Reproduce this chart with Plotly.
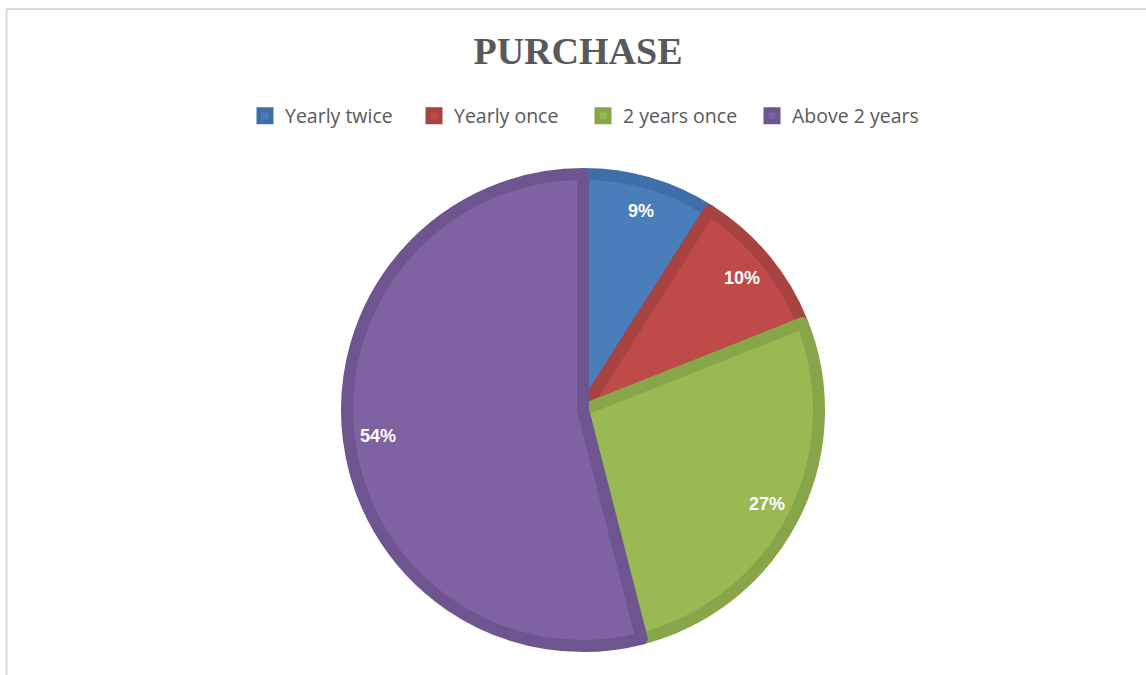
import math
import plotly.graph_objects as go

categories = ["Yearly twice", "Yearly once", "2 years once", "Above 2 years"]
values = [9, 10, 27, 54]
label_texts = ["9%", "10%", "27%", "54%"]

fill_colors = ["#4A7EBB", "#BE4B48", "#98B954", "#7F62A1"]
edge_colors = ["#3F6EA8", "#A84341", "#87A64A", "#6E5590"]

W, H = 1146, 675
cx_px, cy_px = 583, 410
R_outer = 242
stroke = 12
R_fill = R_outer - stroke / 2

cx = cx_px / W
cy = 1 - cy_px / H
dom_x = [cx - R_fill / W, cx + R_fill / W]
dom_y = [cy - R_fill / H, cy + R_fill / H]

fig = go.Figure()
fig.add_trace(go.Pie(
    labels=categories,
    values=values,
    sort=False,
    direction="clockwise",
    rotation=0,
    textinfo="none",
    hoverinfo="label+percent",
    marker=dict(colors=fill_colors, line=dict(color=edge_colors, width=stroke)),
    domain=dict(x=dom_x, y=dom_y),
    showlegend=True,
))

# data labels placed from the data's cumulative angles
total = sum(values)
cum = 0
for v, t in zip(values, label_texts):
    mid = (cum + v / 2) / total * 2 * math.pi
    cum += v
    r = 0.855 * R_outer
    px = cx_px + r * math.sin(mid)
    py = cy_px - r * math.cos(mid)
    fig.add_annotation(x=px / W, y=1 - py / H, xref="paper", yref="paper",
                       text="<b>" + t + "</b>", showarrow=False,
                       font=dict(family="Liberation Sans", size=18, color="white"),
                       xanchor="center", yanchor="middle")

fig.update_layout(
    width=W, height=H,
    margin=dict(l=0, r=0, t=0, b=0),
    paper_bgcolor="white",
    plot_bgcolor="white",
    title=dict(text="<b>PURCHASE</b>", x=578 / W, xanchor="center",
               y=1 - 51 / H, yanchor="middle",
               font=dict(family="Liberation Serif", size=38, color="#595959")),
    legend=dict(orientation="h", x=245 / W, xanchor="left",
                y=1 - 116 / H, yanchor="middle",
                font=dict(family="Open Sans", size=19.5, color="#595959"),
                itemwidth=30, traceorder="normal",
                entrywidth=124, entrywidthmode="pixels"),
    shapes=[
        dict(type="line", xref="paper", yref="paper", x0=6 / W, x1=1, y0=1 - 9 / H, y1=1 - 9 / H,
             line=dict(color="#D9D9D9", width=2)),
        dict(type="line", xref="paper", yref="paper", x0=6.5 / W, x1=6.5 / W, y0=0, y1=1 - 9 / H,
             line=dict(color="#D9D9D9", width=2)),
    ],
)

fig.write_html("out.html", config={"displayModeBar": False},
               post_script="document.body.style.margin='0';document.body.style.overflow='hidden';")
